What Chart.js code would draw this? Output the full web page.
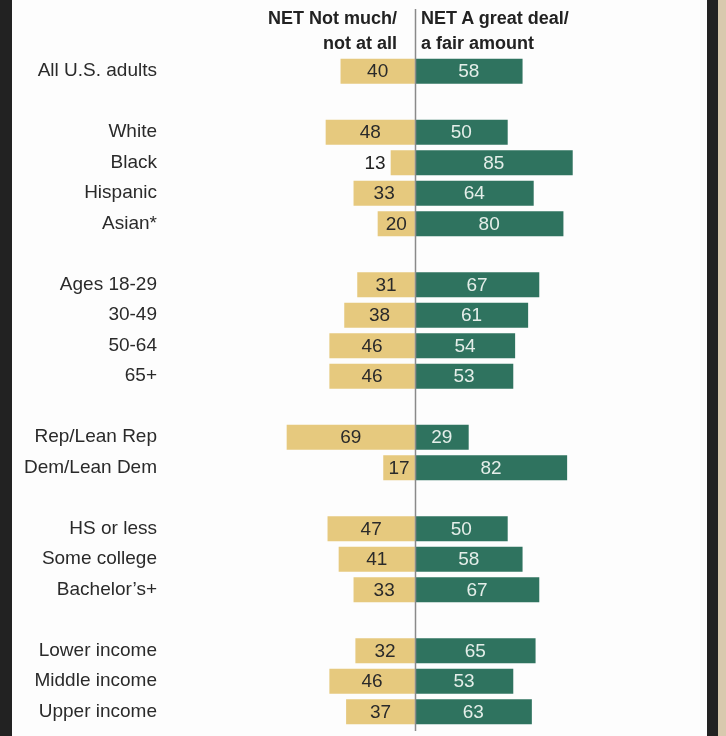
<!DOCTYPE html>
<html>
<head>
<meta charset="utf-8">
<script src="https://cdn.jsdelivr.net/npm/chart.js@4"></script>
<style>
    body { margin: 0; width: 726px; height: 736px; background: #222; position: relative; overflow: hidden; font-family: 'Liberation Sans', Arial, sans-serif; }
    #panel { position: absolute; left: 12px; top: 0; width: 695px; height: 736px; background: #fdfdfd; overflow: hidden; }
    #strip { position: absolute; left: 718px; top: 0; width: 8px; height: 736px; background: #d8c9ae; }
    .head { position: absolute; top: 6px; font-weight: bold; font-size: 18px; line-height: 25px; color: #222; }
    #head-left { right: 329px; text-align: right; }
    #head-right { left: 421px; text-align: left; }
    #chart-box { position: absolute; left: 0; top: 0; width: 695px; height: 760px; }
</style>
</head>
<body>
<div id="panel">
    <div id="chart-box"><canvas id="chart"></canvas></div>
</div>
<div id="strip"></div>
<div class="head" id="head-left">NET Not much/<br>not at all</div>
<div class="head" id="head-right">NET A great deal/<br>a fair amount</div>

<script>
// rows, empty strings are the gaps between groups
const categories = [
    'All U.S. adults', '',
    'White', 'Black', 'Hispanic', 'Asian*', '',
    'Ages 18-29', '30-49', '50-64', '65+', '',
    'Rep/Lean Rep', 'Dem/Lean Dem', '',
    'HS or less', 'Some college', 'Bachelor\u2019s+', '',
    'Lower income', 'Middle income', 'Upper income'
];

const notMuch = [
    40, null,
    48, 13, 33, 20, null,
    31, 38, 46, 46, null,
    69, 17, null,
    47, 41, 33, null,
    32, 46, 37
];

const greatDeal = [
    58, null,
    50, 85, 64, 80, null,
    67, 61, 54, 53, null,
    29, 82, null,
    50, 58, 67, null,
    65, 53, 63
];

const TAN = '#e6c97e';
const GREEN = '#2f735f';

document.addEventListener('DOMContentLoaded', function() {
    const ctx = document.getElementById('chart').getContext('2d');

    const centerLine = {
        id: 'centerLine',
        afterDatasetsDraw: function(chart) {
            const x = Math.round(chart.scales.x.getPixelForValue(0)) + 0.5;
            const c = chart.ctx;
            c.save();
            c.strokeStyle = '#8a8a8a';
            c.lineWidth = 1.5;
            c.beginPath();
            c.moveTo(x, 9);
            c.lineTo(x, 731);
            c.stroke();
            c.restore();
        }
    };

    const valueLabels = {
        id: 'valueLabels',
        afterDatasetsDraw: function(chart) {
            const c = chart.ctx;
            c.save();
            c.font = '19px "Liberation Sans", Arial, sans-serif';
            c.textBaseline = 'middle';
            chart.data.datasets.forEach(function(ds, di) {
                const meta = chart.getDatasetMeta(di);
                meta.data.forEach(function(bar, i) {
                    const v = di === 0 ? notMuch[i] : greatDeal[i];
                    if (v === null) return;
                    const left = Math.min(bar.x, bar.base);
                    const right = Math.max(bar.x, bar.base);
                    if (di === 0 && v < 15) {
                        c.fillStyle = '#222';
                        c.textAlign = 'right';
                        c.fillText(String(v), left - 5, bar.y + 1);
                        return;
                    }
                    c.fillStyle = di === 0 ? '#2a2a2a' : '#e4eee9';
                    c.textAlign = 'center';
                    c.fillText(String(v), (left + right) / 2, bar.y + 1);
                });
            });
            c.restore();
        }
    };

    new Chart(ctx, {
        type: 'bar',
        data: {
            labels: categories,
            datasets: [{
                label: 'NET Not much/not at all',
                data: notMuch.map(function(v) { return v === null ? null : -v; }),
                backgroundColor: TAN,
                borderWidth: 0
            }, {
                label: 'NET A great deal/a fair amount',
                data: greatDeal,
                backgroundColor: GREEN,
                borderWidth: 0
            }]
        },
        options: {
            indexAxis: 'y',
            responsive: true,
            maintainAspectRatio: false,
            animation: false,
            layout: { padding: { top: 56, bottom: 33, left: 0, right: 125 } },
            datasets: {
                bar: { categoryPercentage: 0.82, barPercentage: 1 }
            },
            scales: {
                x: {
                    stacked: true,
                    min: -134.5,
                    max: 90,
                    display: false
                },
                y: {
                    stacked: true,
                    afterFit: function(scale) { scale.width = 153; },
                    border: { display: false },
                    grid: { display: false, drawTicks: false },
                    ticks: {
                        padding: 8,
                        color: '#2a2a2a',
                        font: { family: '"Liberation Sans", Arial, sans-serif', size: 19 }
                    }
                }
            },
            plugins: {
                legend: { display: false },
                tooltip: { enabled: false }
            }
        },
        plugins: [valueLabels, centerLine]
    });
});
</script>
</body>
</html>
